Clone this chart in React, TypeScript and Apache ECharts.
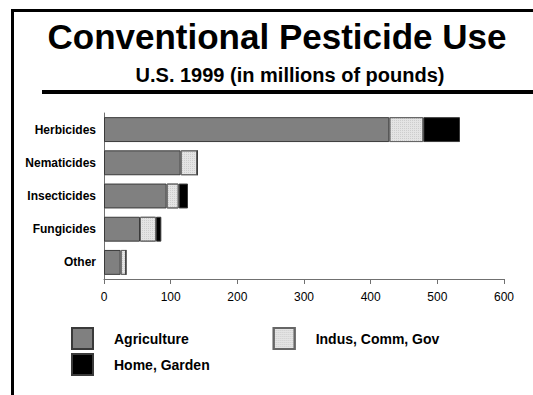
import React, { useEffect, useRef } from "react";
import * as echarts from "echarts";

const categories = ["Other", "Fungicides", "Insecticides", "Nematicides", "Herbicides"];
const agriculture = [25, 54, 94, 115, 428];
const indusCommGov = [8, 24, 18, 25, 51];
const homeGarden = [0, 8, 14, 0, 55];
const xTicks = { min: 0, max: 600, interval: 100 };

export default function App() {
  const ref = useRef<HTMLDivElement>(null);
  useEffect(() => {
    if (!ref.current) return;
    const chart = echarts.init(ref.current, null, { renderer: "svg" });
    const font = "'Liberation Sans', Arial, sans-serif";
    const border = "#3a3a3a";
    const legendText = { fontSize: 14, fontWeight: "bold", color: "#000", fontFamily: font, padding: [0, 0, 0, 16] };
    chart.setOption({
      animation: false,
      backgroundColor: "#ffffff",
      textStyle: { fontFamily: font },
      grid: { left: 104, right: 29, top: 113, bottom: 116, containLabel: false },
      xAxis: {
        type: "value",
        min: xTicks.min,
        max: xTicks.max,
        interval: xTicks.interval,
        splitLine: { show: false },
        axisLine: { show: true, lineStyle: { color: "#707070", width: 1 } },
        axisTick: { show: true, length: 5, lineStyle: { color: "#707070" } },
        axisLabel: { color: "#000", fontSize: 12, fontFamily: font, margin: 12 },
      },
      yAxis: {
        type: "category",
        data: categories,
        axisLine: { show: true, lineStyle: { color: "#707070", width: 1 } },
        axisTick: { show: false },
        axisLabel: { color: "#000", fontSize: 12, fontWeight: "bold", fontFamily: font, margin: 8 },
      },
      legend: [
        {
          left: 71,
          top: 327,
          padding: 0,
          orient: "horizontal",
          icon: "rect",
          itemWidth: 21,
          itemHeight: 21,
          itemGap: 84,
          selectedMode: false,
          data: ["Agriculture", "Indus, Comm, Gov"],
          textStyle: legendText,
        },
        {
          left: 71,
          top: 353,
          padding: 0,
          icon: "rect",
          itemWidth: 21,
          itemHeight: 21,
          selectedMode: false,
          data: ["Home, Garden"],
          textStyle: legendText,
        },
      ],
      series: [
        {
          name: "Agriculture",
          type: "bar",
          stack: "total",
          data: agriculture,
          barCategoryGap: "25%",
          itemStyle: { color: "#808080", borderColor: border, borderWidth: 1 },
        },
        {
          name: "Indus, Comm, Gov",
          type: "bar",
          stack: "total",
          data: indusCommGov,
          itemStyle: {
            color: "#e4e4e4",
            borderColor: "#666",
            borderWidth: 1,
            decal: {
              symbol: "rect",
              symbolSize: 1,
              dashArrayX: [1, 1],
              dashArrayY: [1, 1],
              color: "rgba(0,0,0,0.1)",
              rotation: 0,
            },
          },
        },
        {
          name: "Home, Garden",
          type: "bar",
          stack: "total",
          data: homeGarden,
          itemStyle: { color: "#000000", borderColor: border, borderWidth: 1 },
        },
      ],
      graphic: [
        { type: "rect", shape: { x: 11, y: 9, width: 3, height: 400 }, style: { fill: "#000" } },
        { type: "rect", shape: { x: 11, y: 9, width: 530, height: 3 }, style: { fill: "#000" } },
        { type: "rect", shape: { x: 42, y: 90, width: 500, height: 4 }, style: { fill: "#000" } },
        {
          type: "text",
          x: 277,
          y: 54,
          style: {
            text: "Conventional Pesticide Use",
            font: `bold 35px ${font}`,
            fill: "#000",
            textAlign: "center",
            textVerticalAlign: "bottom",
          },
        },
        {
          type: "text",
          x: 290,
          y: 85,
          style: {
            text: "U.S. 1999 (in millions of pounds)",
            font: `bold 20px ${font}`,
            fill: "#000",
            textAlign: "center",
            textVerticalAlign: "bottom",
          },
        },
      ],
    });
    return () => chart.dispose();
  }, []);
  return <div ref={ref} style={{ width: 533, height: 395, position: "absolute", left: 0, top: 0 }} />;
}
